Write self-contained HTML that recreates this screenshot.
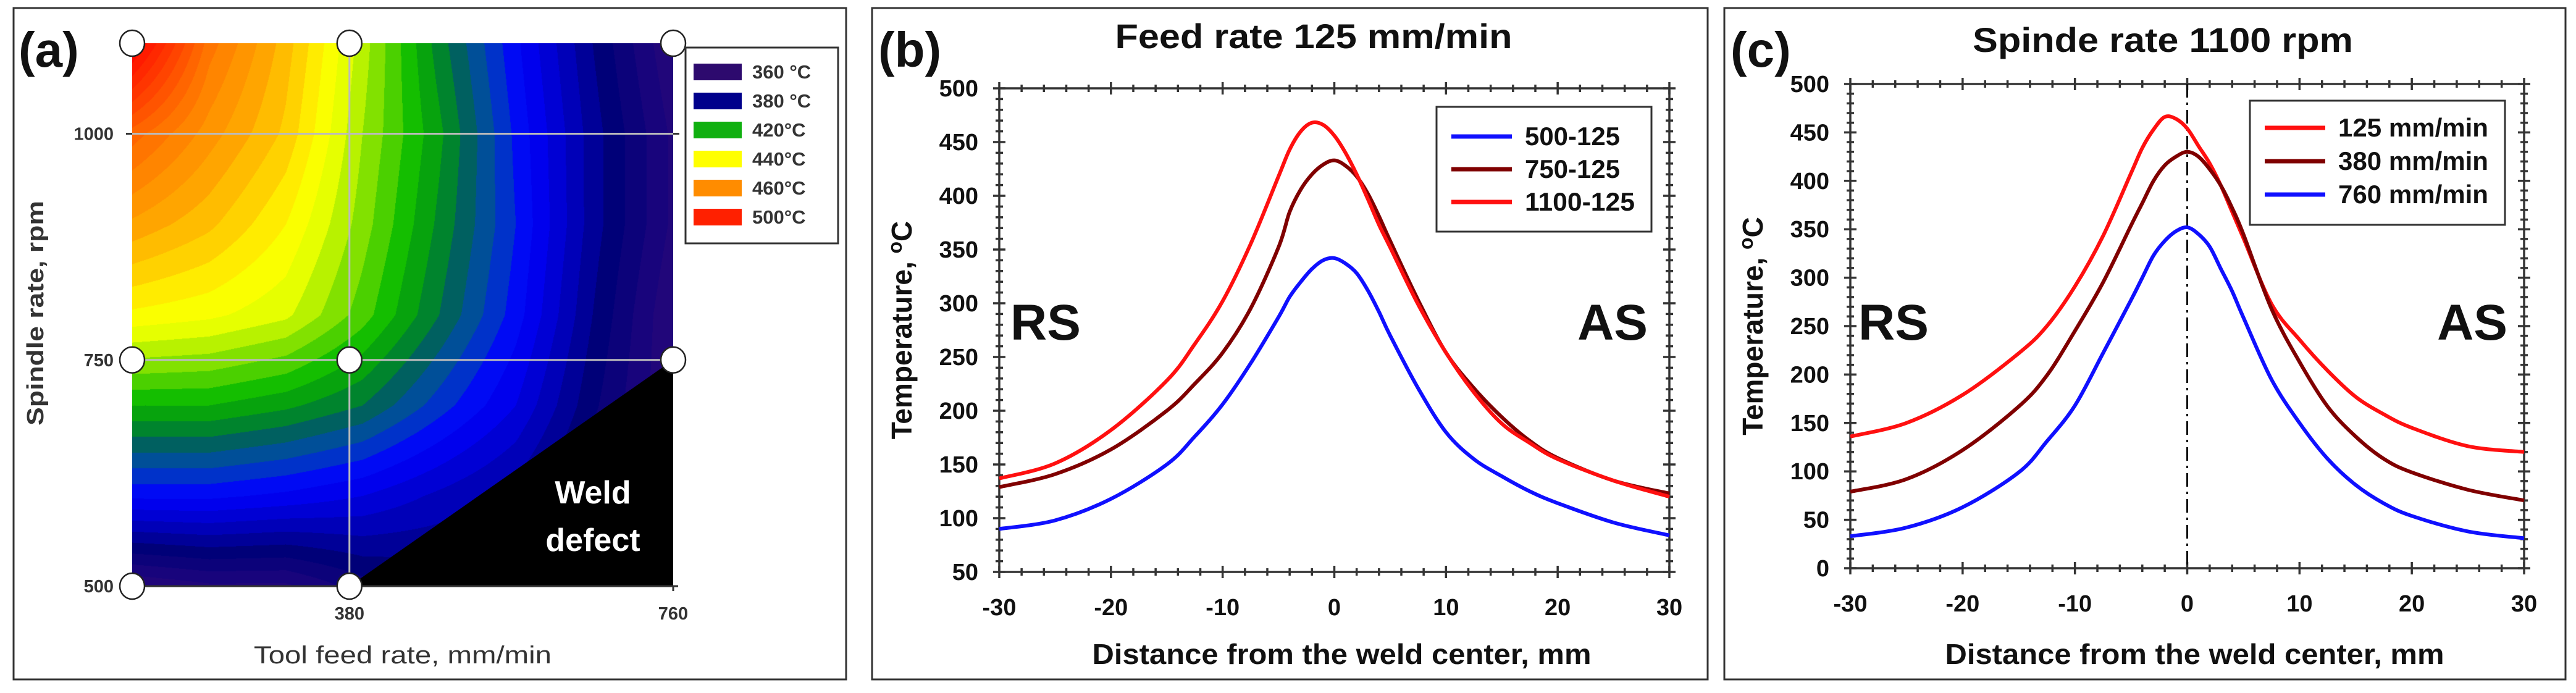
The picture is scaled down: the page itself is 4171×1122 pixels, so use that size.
<!DOCTYPE html>
<html><head><meta charset="utf-8">
<style>
html,body{margin:0;padding:0;background:#fff;}
#wrap{position:relative;width:4171px;height:1122px;overflow:hidden;background:#fff;}
#contour{position:absolute;left:214px;top:70px;}
#chart{position:absolute;left:0;top:0;}
text{font-family:"Liberation Sans",Arial,sans-serif;}
</style></head>
<body>
<div id="wrap">
<canvas id="contour" width="876" height="879"></canvas>
<svg id="chart" width="4171" height="1122" xmlns="http://www.w3.org/2000/svg"></svg>
</div>
<script>
// ---------- Panel (a) contour data ----------
const feedRates = [125,215,305,395,485,575,665,760];
const spindleRates = [1100,1000,900,800,700,600,500];
const tempRow1100 = [500,468,452,432,412,395,378,362];
const tempRow1000 = [472,460,449,430,415,397,380,365];
const tempRow900  = [457,451,442,428,413,398,380,365];
const tempRow800  = [441,439,435,424,410,396,378,362];
const tempRow700  = [418,418,415,410,400,390,375,362];
const tempRow600  = [395,395,393,390,385,380,370,360];
const tempRow500  = [362,365,365,372,375,372,365,358];
const tempGrid = [tempRow1100,tempRow1000,tempRow900,tempRow800,tempRow700,tempRow600,tempRow500];
const legendTemps = ['360 °C','380 °C','420°C','440°C','460°C','500°C'];
const legendColors = ['#2d0a6e','#00008b','#10b010','#ffff00','#ff8c00','#ff2000'];
const designFeeds = [125,380,760,125,380,760,125,380];
const designSpindles = [1100,1100,1100,750,750,750,500,500];

// ---------- Panel (b)/(c) data ----------
const distances = [-30,-25,-20,-15,-12.5,-10,-7.5,-5,-4,-3,-2,-1,0,1,2,3,4,5,7.5,10,12.5,15,17.5,20,25,30];
const bRed   = [137,151,182,228,262,302,355,418,443,460,468,466,456,440,420,397,373,352,299,254,217,188,170,155,135,120];
const bBrown = [129,141,164,200,225,254,295,352,385,406,420,429,433,428,418,402,381,358,303,254,221,194,172,156,135,123];
const bBlue  = [90,98,118,150,176,206,244,287,306,320,332,340,342,337,328,312,292,270,221,180,155,139,125,114,96,84];
const cRed   = [136,150,179,222,250,291,343,408,434,453,466,464,454,436,418,395,368,341,273,236,204,177,159,145,126,120];
const cBrown = [79,92,122,167,199,245,295,354,377,400,416,425,430,425,412,395,372,345,268,213,167,136,113,99,81,70];
const cBlue  = [33,42,63,99,131,168,222,277,300,323,338,348,352,345,332,309,286,259,195,150,113,86,67,54,38,31];
const xTicks = [-30,-20,-10,0,10,20,30];
const bYTicks = [50,100,150,200,250,300,350,400,450,500];
const cYTicks = [0,50,100,150,200,250,300,350,400,450,500];
const bLegend = ['500-125','750-125','1100-125'];
const cLegend = ['125 mm/min','380 mm/min','760 mm/min'];

const NS='http://www.w3.org/2000/svg';
const svg=document.getElementById('chart');
function mk(tag,attrs,parent){const e=document.createElementNS(NS,tag);for(const k in attrs)e.setAttribute(k,attrs[k]);(parent||svg).appendChild(e);return e;}
function txt(str,attrs,parent){const e=mk('text',attrs,parent);e.textContent=str;if(attrs.textLength)e.setAttribute('lengthAdjust','spacingAndGlyphs');return e;}

// ---------- Panel (a) ----------
const A={l:214,r:1090,t:70,b:949,x0:125,x1:760,y0:500,y1:1100};
const ax=v=>A.l+(v-A.x0)/(A.x1-A.x0)*(A.r-A.l);
const ay=v=>A.b-(v-A.y0)/(A.y1-A.y0)*(A.b-A.t);
const stops=[[355,[45,10,110]],[366,[30,5,125]],[376,[0,0,120]],[386,[0,0,200]],[395,[0,0,255]],[402,[0,70,180]],[408,[0,96,96]],[414,[0,150,20]],[420,[20,190,0]],[428,[130,225,0]],[435,[225,255,0]],[441,[255,255,0]],[448,[255,210,0]],[456,[255,165,0]],[466,[255,125,0]],[482,[255,60,0]],[500,[255,0,0]]];
function colorFor(t){t=Math.round(t/4)*4;if(t<=stops[0][0])return stops[0][1];for(let i=1;i<stops.length;i++){if(t<=stops[i][0]){const a=stops[i-1],b=stops[i];const f=(t-a[0])/(b[0]-a[0]);return a[1].map((c,j)=>Math.round(c+(b[1][j]-c)*f));}}return stops[stops.length-1][1];}
function tempAt(f,s){
  let i=0;while(i<feedRates.length-2&&f>feedRates[i+1])i++;
  let j=0;while(j<spindleRates.length-2&&s<spindleRates[j+1])j++;
  const fx=Math.min(1,Math.max(0,(f-feedRates[i])/(feedRates[i+1]-feedRates[i])));
  const fy=Math.min(1,Math.max(0,(s-spindleRates[j])/(spindleRates[j+1]-spindleRates[j])));
  const a=tempGrid[j][i],b=tempGrid[j][i+1],c=tempGrid[j+1][i],d=tempGrid[j+1][i+1];
  return a*(1-fx)*(1-fy)+b*fx*(1-fy)+c*(1-fx)*fy+d*fx*fy;
}
(function(){const cv=document.getElementById('contour');const ctx=cv.getContext('2d');const W=cv.width,H=cv.height;const img=ctx.createImageData(W,H);
for(let py=0;py<H;py++){const s=A.y1-(py/H)*(A.y1-A.y0);for(let px=0;px<W;px++){const f=A.x0+(px/W)*(A.x1-A.x0);const c=colorFor(tempAt(f,s));const k=(py*W+px)*4;img.data[k]=c[0];img.data[k+1]=c[1];img.data[k+2]=c[2];img.data[k+3]=255;}}
ctx.putImageData(img,0,0);})();

const frameA=mk('rect',{x:22,y:13,width:1348,height:1087,fill:'none',stroke:'#333',"stroke-width":3});

const defect=mk('polygon',{points:`${ax(380)},${ay(500)} ${ax(760)},${ay(500)} ${ax(760)},${ay(750)}`,fill:'#000'});

const gA=mk('g',{stroke:'#bbb',"stroke-width":3});

mk('line',{x1:ax(380),y1:A.t,x2:ax(380),y2:A.b},gA);
mk('line',{x1:A.l,y1:ay(1000),x2:A.r,y2:ay(1000)},gA);
mk('line',{x1:A.l,y1:ay(750),x2:A.r,y2:ay(750)},gA);
const axA=mk('g',{stroke:'#333',"stroke-width":3});

mk('line',{x1:A.l,y1:A.b,x2:A.r+8,y2:A.b},axA);
[1000,750].forEach(v=>mk('line',{x1:A.l-10,y1:ay(v),x2:A.l,y2:ay(v)},axA));
mk('line',{x1:A.r,y1:ay(1000),x2:A.r+10,y2:ay(1000)},axA);
mk('line',{x1:ax(760),y1:A.b,x2:ax(760),y2:A.b+8},axA);
['1000','750','500'].forEach((s,i)=>{const t=txt(s,{x:A.l-30,y:ay([1000,750,500][i])+10,"font-size":29,"font-weight":"bold",fill:'#333',"text-anchor":'end'});});
['380','760'].forEach((s,i)=>{const t=txt(s,{x:ax([380,760][i]),y:1003,"font-size":29,"font-weight":"bold",fill:'#333',"text-anchor":'middle'});});
for(let i=0;i<designFeeds.length;i++){const c=mk('ellipse',{cx:ax(designFeeds[i]),cy:ay(designSpindles[i]),rx:20,ry:21,fill:'#fff',stroke:'#222',"stroke-width":2.5});
}
const wd1=txt('Weld',{x:960,y:815,"font-size":52,"font-weight":"bold",fill:'#fff',"text-anchor":'middle'});
const wd2=txt('defect',{x:960,y:892,"font-size":52,"font-weight":"bold",fill:'#fff',"text-anchor":'middle'});
const lgA=mk('g',{});
mk('rect',{x:1110,y:77,width:247,height:317,fill:'#fff',stroke:'#333',"stroke-width":3},lgA);
legendTemps.forEach((s,i)=>{const y=116+i*47;const sw=mk('rect',{x:1123,y:y-13,width:78,height:27,fill:legendColors[i]},lgA);
const t=txt(s,{x:1218,y:y+11,"font-size":31,"font-weight":"bold",fill:'#333'},lgA);});
const laA=txt('(a)',{x:30,y:108,"font-size":80,"font-weight":"bold",fill:'#111'});
const xtA=txt('Tool feed rate, mm/min',{x:652,y:1074,"font-size":40,fill:'#333',"text-anchor":'middle',textLength:482});
const ytA=txt('Spindle rate, rpm',{x:0,y:0,"font-size":38,"font-weight":"bold",fill:'#333',"text-anchor":'middle',transform:'translate(70,507) rotate(-90)',textLength:364});

// ---------- Line panels ----------
function catmull(pts){let d=`M${pts[0][0]},${pts[0][1]}`;for(let i=0;i<pts.length-1;i++){const p0=pts[Math.max(0,i-1)],p1=pts[i],p2=pts[i+1],p3=pts[Math.min(pts.length-1,i+2)];
const c1=[p1[0]+(p2[0]-p0[0])/6,p1[1]+(p2[1]-p0[1])/6],c2=[p2[0]-(p3[0]-p1[0])/6,p2[1]-(p3[1]-p1[1])/6];d+=` C${c1[0]},${c1[1]} ${c2[0]},${c2[1]} ${p2[0]},${p2[1]}`;}return d;}
function linePanel(P){
  const X=v=>P.l+(v+30)/60*(P.r-P.l);const Y=v=>P.b-(v-P.ymin)/(P.ymax-P.ymin)*(P.b-P.t);
  const fr=mk('rect',{x:P.fx,y:13,width:P.fw,height:1087,fill:'none',stroke:'#333',"stroke-width":3});
  const lab=txt(P.label,{x:P.fx+10,y:108,"font-size":80,"font-weight":"bold",fill:'#111'});
  const ti=txt(P.title,{x:P.titleX,y:P.titleY,"font-size":56,"font-weight":"bold",fill:'#111',"text-anchor":'middle',textLength:P.titleW});
  const g=mk('g',{stroke:'#333',"stroke-width":3.5,fill:'none'});
  mk('rect',{x:P.l,y:P.t,width:P.r-P.l,height:P.b-P.t},g);
  for(let v=-30;v<=30;v+=2){const maj=v%10===0;const L=maj?10:6;const x=X(v);mk('line',{x1:x,y1:P.b-L,x2:x,y2:P.b+L},g);mk('line',{x1:x,y1:P.t-L,x2:x,y2:P.t+L},g);}
  for(let v=P.ymin;v<=P.ymax;v+=10){const maj=v%50===0;const L=maj?10:6;const y=Y(v);mk('line',{x1:P.l-L,y1:y,x2:P.l+L,y2:y},g);mk('line',{x1:P.r-L,y1:y,x2:P.r+L,y2:y},g);}
  xTicks.forEach(v=>{const t=txt(String(v),{x:X(v),y:P.b+70,"font-size":38,"font-weight":"bold",fill:'#111',"text-anchor":'middle'});});
  P.yTicks.forEach(v=>{const t=txt(String(v),{x:P.l-34,y:Y(v)+13,"font-size":38,"font-weight":"bold",fill:'#111',"text-anchor":'end'});});
  const xt=txt('Distance from the weld center, mm',{x:(P.l+P.r)/2+12,y:1075,"font-size":46,"font-weight":"bold",fill:'#111',"text-anchor":'middle',textLength:808});
  const yt=mk('text',{x:0,y:0,"font-size":46,"font-weight":"bold",fill:'#111',"text-anchor":'middle',transform:`translate(${P.l-142},${(P.t+P.b)/2}) rotate(-90)`});
  
  yt.appendChild(document.createTextNode('Temperature, '));const sup=document.createElementNS(NS,'tspan');sup.setAttribute('dy','-16');sup.setAttribute('font-size','32');sup.textContent='o';yt.appendChild(sup);const cc=document.createElementNS(NS,'tspan');cc.setAttribute('dy','16');cc.textContent='C';yt.appendChild(cc);
  const rs=txt('RS',{x:P.rsX,y:550,"font-size":82,"font-weight":"bold",fill:'#111'});
  const as=txt('AS',{x:P.asX,y:550,"font-size":82,"font-weight":"bold",fill:'#111',"text-anchor":'end'});
  if(P.centerLine){const cl=mk('line',{x1:X(0),y1:P.t,x2:X(0),y2:P.b,stroke:'#111',"stroke-width":3,"stroke-dasharray":'22 8 4 8'});}
  P.series.forEach((s,k)=>{const pts=distances.map((d,i)=>[X(d),Y(s.vals[i])]);const p=mk('path',{d:catmull(pts),fill:'none',stroke:s.color,"stroke-width":6,"stroke-linejoin":'round'});
    });
  const lg=mk('g',{});
  mk('rect',{x:P.lg.x,y:P.lg.y,width:P.lg.w,height:P.lg.h,fill:'#fff',stroke:'#333',"stroke-width":3},lg);
  P.legendOrder.forEach((k,i)=>{const s=P.series[k];const y=P.lg.rowY+i*P.lg.dy;
    const ln=mk('line',{x1:P.lg.x+24,y1:y,x2:P.lg.x+122,y2:y,stroke:s.color,"stroke-width":7},lg);
    const t=txt(P.legendText[i],{x:P.lg.x+143,y:y+14,"font-size":42,"font-weight":"bold",fill:'#111',textLength:P.lg.tw[i]},lg);});
}
linePanel({id:'panel-b',label:'(b)',title:'Feed rate 125 mm/min',titleX:2127,titleY:78,titleW:643,fx:1412,fw:1353,
  l:1618,r:2703,t:143,b:926,ymin:50,ymax:500,yTicks:bYTicks,rsX:1636,asX:2668,centerLine:false,
  series:[{name:'500-125',color:'#1010ff',vals:bBlue},{name:'750-125',color:'#800000',vals:bBrown},{name:'1100-125',color:'#ff1010',vals:bRed}],
  legendOrder:[0,1,2],legendText:bLegend,lg:{x:2326,y:173,w:348,h:202,rowY:221,dy:53,tw:[154,154,178]}});
linePanel({id:'panel-c',label:'(c)',title:'Spinde rate 1100 rpm',titleX:3502,titleY:84,titleW:616,fx:2792,fw:1362,
  l:2996,r:4087,t:136,b:920,ymin:0,ymax:500,yTicks:cYTicks,rsX:3009,asX:4060,centerLine:true,
  series:[{name:'125-mm-min',color:'#ff1010',vals:cRed},{name:'380-mm-min',color:'#800000',vals:cBrown},{name:'760-mm-min',color:'#1010ff',vals:cBlue}],
  legendOrder:[0,1,2],legendText:cLegend,lg:{x:3643,y:163,w:413,h:201,rowY:207,dy:54,tw:[243,243,243]}});
</script>
</body></html>
